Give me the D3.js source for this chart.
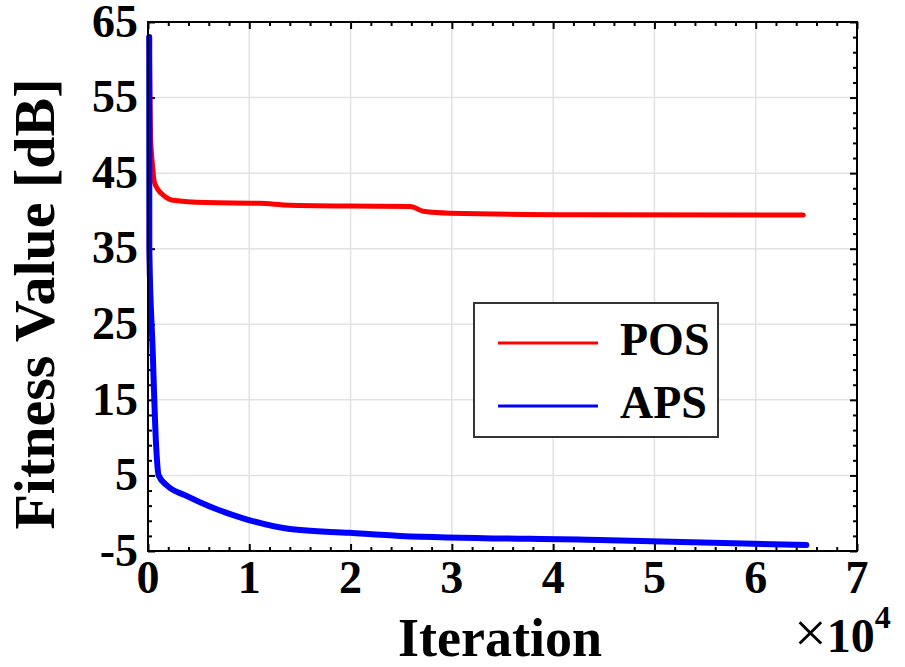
<!DOCTYPE html>
<html>
<head>
<meta charset="utf-8">
<script src="https://cdn.jsdelivr.net/npm/d3@7"></script>
<style>
  html, body { margin: 0; padding: 0; background: #fff; }
  svg { display: block; }
  text { font-family: "Liberation Serif", "Times New Roman", serif; font-weight: bold; fill: #000; }
</style>
</head>
<body>
<svg id="chart" width="905" height="667"></svg>
<script>
// ---- data ----
const xTicks = [0, 1, 2, 3, 4, 5, 6, 7];           // ×10^4
const yTicks = [-5, 5, 15, 25, 35, 45, 55, 65];
const seriesNames = ["POS", "APS"];
const seriesColors = ["#ff0000", "#0000ff"];
// iteration (×10^4), fitness value (dB)
const posX = [0.012, 0.025, 0.045, 0.06, 0.1, 0.15, 0.25, 0.58, 1.1, 1.4, 2.0, 2.59, 2.72, 2.98, 4.26, 6.47];
const posY = [63, 50, 46, 44, 42.8, 42.1, 41.4, 41.1, 41.0, 40.75, 40.65, 40.6, 39.95, 39.7, 39.5, 39.45];
const apsX = [0.012, 0.013, 0.045, 0.08, 0.105, 0.185, 0.38, 0.61, 0.97, 1.40, 1.99, 2.49, 4.46, 6.5];
const apsY = [63, 35, 22, 9, 5, 3.7, 2.3, 0.9, -0.8, -2.1, -2.6, -3.0, -3.55, -4.2];

// ---- layout ----
const svg = d3.select("#chart");
const L = 148, T = 22, R = 857, B = 551;
const x = d3.scaleLinear().domain([0, 7]).range([L, R]);
const y = d3.scaleLinear().domain([-5, 65]).range([B, T]);

// grid
const g = svg.append("g");
g.selectAll("line.gx").data(xTicks.slice(1, -1)).enter().append("line")
  .attr("x1", d => x(d)).attr("x2", d => x(d)).attr("y1", T).attr("y2", B)
  .attr("stroke", "#e2e2e2").attr("stroke-width", 1.5);
g.selectAll("line.gy").data(yTicks.slice(1, -1)).enter().append("line")
  .attr("x1", L).attr("x2", R).attr("y1", d => y(d)).attr("y2", d => y(d))
  .attr("stroke", "#e2e2e2").attr("stroke-width", 1.5);

// axes with inward ticks on all four sides
const xMinor = d3.range(0, 7.0001, 0.2).filter(v => Math.abs(v - Math.round(v)) > 1e-6);
const yMinor = d3.range(-5, 65.0001, 2).filter(v => (v + 5) % 10 !== 0);

function addAxis(axisGen, transform) {
  const a = svg.append("g").attr("transform", transform).call(axisGen);
  a.select(".domain").remove();
  a.selectAll("line").attr("stroke", "#000").attr("stroke-width", 2);
  a.selectAll("text").remove();
  return a;
}
addAxis(d3.axisBottom(x).tickValues(xTicks).tickSize(-7), `translate(0,${B})`);
addAxis(d3.axisBottom(x).tickValues(xMinor).tickSize(-4), `translate(0,${B})`);
addAxis(d3.axisTop(x).tickValues(xTicks).tickSize(-7), `translate(0,${T})`);
addAxis(d3.axisTop(x).tickValues(xMinor).tickSize(-4), `translate(0,${T})`);
addAxis(d3.axisLeft(y).tickValues(yTicks).tickSize(-7), `translate(${L},0)`);
addAxis(d3.axisLeft(y).tickValues(yMinor).tickSize(-4), `translate(${L},0)`);
addAxis(d3.axisRight(y).tickValues(yTicks).tickSize(-7), `translate(${R},0)`);
addAxis(d3.axisRight(y).tickValues(yMinor).tickSize(-4), `translate(${R},0)`);

// tick labels
svg.append("g").selectAll("text").data(xTicks).enter().append("text")
  .attr("x", d => x(d)).attr("y", B + 42)
  .attr("text-anchor", "middle").attr("font-size", 46).text(d => d);
svg.append("g").selectAll("text").data(yTicks).enter().append("text")
  .attr("x", 138).attr("y", d => y(d)).attr("dy", "0.32em")
  .attr("text-anchor", "end").attr("font-size", 46).text(d => d);

// lines
const line = d3.line().x(d => x(d[0])).y(d => y(d[1])).curve(d3.curveMonotoneX);
const posData = posX.map((v, i) => [v, posY[i]]);
const apsData = apsX.map((v, i) => [v, apsY[i]]);
svg.append("path").datum(posData).attr("d", line)
  .attr("fill", "none").attr("stroke", seriesColors[0]).attr("stroke-width", 5)
  .attr("stroke-linejoin", "round").attr("stroke-linecap", "round");
svg.append("path").datum(apsData).attr("d", line)
  .attr("fill", "none").attr("stroke", seriesColors[1]).attr("stroke-width", 6)
  .attr("stroke-linejoin", "round").attr("stroke-linecap", "round");

// box
svg.append("rect").attr("x", L).attr("y", T).attr("width", R - L).attr("height", B - T)
  .attr("fill", "none").attr("stroke", "#000").attr("stroke-width", 2);

// legend
const lg = svg.append("g");
lg.append("rect").attr("x", 474).attr("y", 303).attr("width", 244).attr("height", 134)
  .attr("fill", "#fff").attr("stroke", "#333").attr("stroke-width", 2);
seriesNames.forEach((name, i) => {
  const yy = 343 + i * 63;
  lg.append("line").attr("x1", 498).attr("x2", 598).attr("y1", yy).attr("y2", yy)
    .attr("stroke", seriesColors[i]).attr("stroke-width", 3);
  lg.append("text").attr("x", 620).attr("y", yy + 12).attr("font-size", 46).text(name);
});

// axis titles
svg.append("text").attr("x", 500).attr("y", 656).attr("text-anchor", "middle")
  .attr("font-size", 54).text("Iteration");
svg.append("text").attr("transform", "translate(54,304) rotate(-90)")
  .attr("text-anchor", "middle").attr("font-size", 58).text("Fitness Value [dB]");

// exponent
const ex = svg.append("text").attr("x", 794).attr("y", 652).attr("font-size", 48);
ex.append("tspan").attr("font-weight", "normal").attr("font-size", 58).text("×");
ex.append("tspan").text("10");
ex.append("tspan").attr("font-size", 32).attr("dy", -24).text("4");
</script>
</body>
</html>
